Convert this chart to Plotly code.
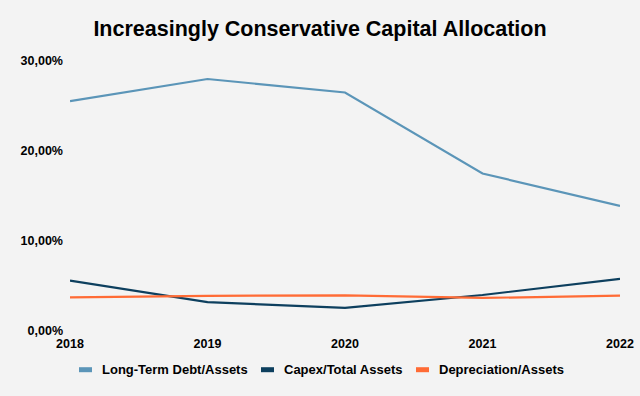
import plotly.graph_objects as go

years = ["2018", "2019", "2020", "2021", "2022"]
ltd_assets = [0.2555, 0.2800, 0.2650, 0.1750, 0.1390]
capex_assets = [0.0560, 0.0320, 0.0258, 0.0400, 0.0580]
dep_assets = [0.0374, 0.0390, 0.0396, 0.0367, 0.0393]

names = ["Long-Term Debt/Assets", "Capex/Total Assets", "Depreciation/Assets"]
colors = ["#5b95b8", "#0d3f5e", "#ff6b35"]

fig = go.Figure()
for name, vals, c in zip(names, [ltd_assets, capex_assets, dep_assets], colors):
    fig.add_trace(go.Scatter(x=years, y=vals, mode="lines", name=name,
                             line=dict(color=c, width=2.2), showlegend=False))

bold = dict(family="Liberation Sans, Arial", size=12.5, color="#000", weight="bold")

# plot area geometry (pixels) for the hand-placed legend
L, R, T, B = 70, 20, 61, 65
W, H = 640, 396
pw, ph = W - L - R, H - T - B
def px(x):
    return (x - L) / pw
def py(y):
    return (H - B - y) / ph

swatch_left = [79, 261, 416]
legend_y = 369.7
for name, c, sx in zip(names, colors, swatch_left):
    fig.add_shape(type="rect", xref="paper", yref="paper",
                  x0=px(sx), x1=px(sx + 13), y0=py(legend_y - 2.5), y1=py(legend_y + 2.5),
                  fillcolor=c, line=dict(width=0))
    fig.add_annotation(text=name, xref="paper", yref="paper",
                       x=px(sx + 21), y=py(legend_y), xanchor="left", yanchor="middle",
                       showarrow=False,
                       font=dict(family="Liberation Sans, Arial", size=13, color="#000", weight="bold"))

fig.update_layout(
    width=W, height=H,
    paper_bgcolor="#f3f3f3", plot_bgcolor="#f3f3f3",
    margin=dict(l=L, r=R, t=T, b=B, autoexpand=False),
    separators=",.",
    title=dict(text="Increasingly Conservative Capital Allocation",
               x=0.5, xanchor="center", y=0.927, yanchor="middle",
               font=dict(family="Liberation Sans, Arial", size=21.5, color="#000", weight="bold")),
    font=dict(family="Liberation Sans, Arial", size=12, color="#000"),
    xaxis=dict(type="category", showgrid=False, zeroline=False, showline=False,
               range=[0, 4], tickfont=bold, ticks="", ticklabelstandoff=3,
               automargin=False),
    yaxis=dict(range=[0, 0.30], tickvals=[0, 0.1, 0.2, 0.3], tickformat=".2%",
               showgrid=False, zeroline=False, showline=False,
               tickfont=bold, ticks="", ticklabelstandoff=6, automargin=False),
    showlegend=False,
)

fig.write_html("out.html", config={"displayModeBar": False},
               post_script="document.body.style.margin='0';")
